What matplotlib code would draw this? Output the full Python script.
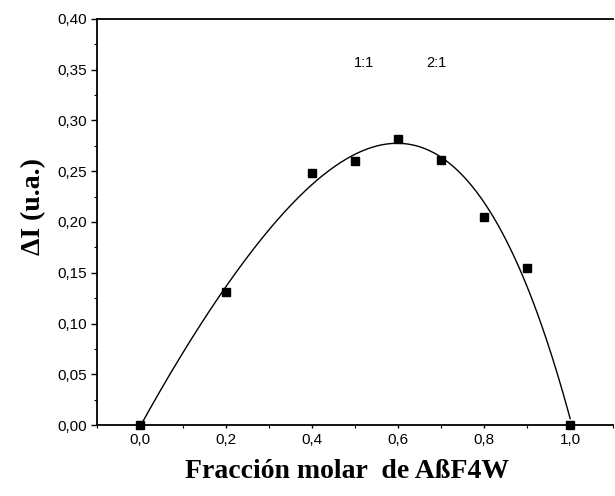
import numpy as np
import matplotlib
matplotlib.use("Agg")
import matplotlib.pyplot as plt
from matplotlib.ticker import MultipleLocator, FuncFormatter

x_frac = [0.0, 0.2, 0.4, 0.5, 0.6, 0.7, 0.8, 0.9, 1.0]
delta_i = [0.0, 0.131, 0.248, 0.260, 0.282, 0.261, 0.205, 0.155, 0.0]
ratio_labels = ["1:1", "2:1"]
ratio_x = [0.52, 0.69]
ratio_y = [0.357, 0.357]

fig = plt.figure(figsize=(6.15, 4.96), dpi=100)
ax = fig.add_axes([0.158, 0.143, 0.839, 0.819])

coef = np.polyfit(x_frac, delta_i, 4)
xs = np.linspace(0, 1, 300)
ax.plot(xs, np.polyval(coef, xs), color="black", lw=1.0)
ax.plot(x_frac, delta_i, "s", color="black", ms=6, clip_on=False, zorder=5)

for lab, tx, ty in zip(ratio_labels, ratio_x, ratio_y):
    ax.text(tx, ty, lab, fontsize=10.5, family="Liberation Sans", ha="center", va="center")

ax.set_xlim(-0.1, 1.1)
ax.set_ylim(0, 0.40)
ax.xaxis.set_major_locator(MultipleLocator(0.2))
ax.xaxis.set_minor_locator(MultipleLocator(0.1))
ax.yaxis.set_major_locator(MultipleLocator(0.05))
ax.yaxis.set_minor_locator(MultipleLocator(0.025))
ax.xaxis.set_major_formatter(FuncFormatter(lambda v, p: f"{v:.1f}".replace(".", ",").replace("-0,0", "0,0")))
ax.yaxis.set_major_formatter(FuncFormatter(lambda v, p: f"{v:.2f}".replace(".", ",")))
ax.tick_params(axis="both", which="major", direction="out", length=4, width=1, labelsize=11)
ax.tick_params(axis="both", which="minor", direction="out", length=2.5, width=0.8)
ax.tick_params(axis="x", which="both", length=2)
for lab in ax.get_xticklabels() + ax.get_yticklabels():
    lab.set_family("Liberation Sans")
for s in ax.spines.values():
    s.set_linewidth(1.3)
ax.spines["right"].set_visible(False)

ax.set_xlabel("Fracción molar  de AßF4W", family="Liberation Serif", fontweight="bold", fontsize=20)
ax.set_ylabel("ΔI (u.a.)", family="Liberation Serif", fontweight="bold", fontsize=20)
ax.xaxis.set_label_coords(0.485, -0.114)
ax.yaxis.set_label_coords(-0.124, 0.537)
ax.xaxis.label.set_va("center")
ax.yaxis.label.set_va("center")

fig.savefig("out.png", dpi=100)
